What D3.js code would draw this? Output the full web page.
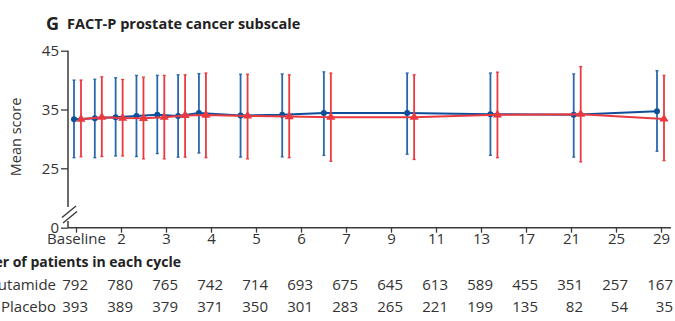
<!DOCTYPE html>
<html>
<head>
<meta charset="utf-8">
<script src="https://cdn.jsdelivr.net/npm/d3@7"></script>
<style>
  body { margin: 0; background: #fff; }
  svg { font-family: "Open Sans", sans-serif; }
</style>
</head>
<body>
<svg width="675" height="321"></svg>
<script>
// cycles waar gemeten is
const cycles = [1, 2, 3, 4, 5, 6, 7, 9, 11, 13, 17, 21, 25, 29];
const tickLabels = ['Baseline', '2', '3', '4', '5', '6', '7', '9', '11', '13', '17', '21', '25', '29'];

// apalutamide (blauw)
const apaMean = [33.35, 33.5, 33.7, 33.9, 34.1, 33.9, 34.4, 34.0, 34.1, 34.4, 34.4, 34.2, 34.1, 34.7];
const apaUpper = [40.0, 40.15, 40.4, 40.8, 40.8, 40.9, 41.1, 41.0, 41.05, 41.4, 41.2, 41.2, 41.05, 41.6];
const apaLower = [26.8, 26.8, 27.1, 27.0, 27.5, 26.9, 27.6, 26.9, 26.95, 27.2, 27.4, 27.2, 26.9, 27.9];

// placebo (rood)
const plaMean = [33.35, 33.7, 33.55, 33.5, 33.7, 34.0, 34.05, 33.9, 33.8, 33.7, 33.7, 34.1, 34.2, 33.4];
const plaUpper = [40.0, 40.55, 40.1, 40.5, 40.8, 40.9, 41.2, 41.0, 40.9, 41.2, 40.9, 41.35, 42.3, 40.8];
const plaLower = [26.95, 27.0, 27.1, 26.6, 26.6, 26.9, 26.8, 26.6, 26.8, 26.2, 26.5, 26.8, 26.1, 26.3];

// aantal patienten per cycle
const apaN = [792, 780, 765, 742, 714, 693, 675, 645, 613, 589, 455, 351, 257, 167];
const plaN = [393, 389, 379, 371, 350, 301, 283, 265, 221, 199, 135, 82, 54, 35];

const yTicks = [0, 25, 35, 45];

const svg = d3.select('svg');
const blue = '#0f4f9a';
const blueBar = '#2a67ad';
const red = '#ea3a40';
const axisColor = '#3a3a3a';
const textColor = '#333';

// x voor de labels (gelijk verdeeld) en x voor de data (lineair in cycle)
const xTick = d3.scalePoint().domain(tickLabels).range([76, 661]);
const xData = d3.scaleLinear().domain([1, 29]).range([74, 657]);
const dodge = 7;

// y-as met breuk tussen 0 en 25
const yscale = d3.scaleLinear().domain([0, 20, 45]).range([227.7, 197.7, 50.7]);

const makeRows = (mean, lo, hi) => cycles.map((c, i) => ({cycle: c, mean: mean[i], lo: lo[i], hi: hi[i]}));
const apa = makeRows(apaMean, apaLower, apaUpper);
const pla = makeRows(plaMean, plaLower, plaUpper);

// titel
svg.append('text').attr('x', 46).attr('y', 29.5)
  .attr('font-size', 18).attr('font-weight', 700).attr('fill', '#222').text('G');
svg.append('text').attr('x', 67).attr('y', 29)
  .attr('font-size', 14.5).attr('font-weight', 700).attr('fill', '#222').text('FACT-P prostate cancer subscale');

// y-as
const yAxis = svg.append('g')
  .attr('transform', 'translate(68,0)')
  .call(d3.axisLeft(yscale).tickValues(yTicks).tickSize(7).tickPadding(2).tickFormat(d3.format('d')));
yAxis.select('.domain').remove();
yAxis.selectAll('line').attr('stroke', axisColor).attr('stroke-width', 1.3);
yAxis.selectAll('text').attr('font-size', 15).attr('fill', textColor).attr('font-family', '"Open Sans", sans-serif');

svg.append('line').attr('x1', 68).attr('x2', 68).attr('y1', yscale(45)).attr('y2', 207)
  .attr('stroke', axisColor).attr('stroke-width', 1.5);
svg.append('line').attr('x1', 68).attr('x2', 68).attr('y1', 221).attr('y2', yscale(0))
  .attr('stroke', axisColor).attr('stroke-width', 1.5);
// breuk-streepjes
[[62, 217.5, 76, 206], [63, 223, 77, 211.5]].forEach(s => {
  svg.append('line').attr('x1', s[0]).attr('y1', s[1]).attr('x2', s[2]).attr('y2', s[3])
    .attr('stroke', axisColor).attr('stroke-width', 1.4);
});

svg.append('text')
  .attr('transform', `translate(21, ${137}) rotate(-90)`)
  .attr('text-anchor', 'middle').attr('font-size', 14.5).attr('fill', textColor)
  .text('Mean score');

// x-as
const xAxis = svg.append('g')
  .attr('transform', `translate(0, ${yscale(0)})`)
  .call(d3.axisBottom(xTick).tickSize(5).tickPadding(1));
xAxis.select('.domain').attr('d', 'M68,0H671').attr('stroke', axisColor).attr('stroke-width', 1.5);
xAxis.selectAll('line').attr('stroke', axisColor).attr('stroke-width', 1.3);
xAxis.selectAll('text').attr('font-size', 15).attr('fill', textColor).attr('font-family', '"Open Sans", sans-serif');

// series tekenen
const drawSeries = (data, color, barColor, off) => {
  const g = svg.append('g');
  const xp = d => xData(d.cycle) + off;
  g.selectAll('.bar').data(data).enter().append('line')
    .attr('x1', xp).attr('x2', xp)
    .attr('y1', d => yscale(d.lo)).attr('y2', d => yscale(d.hi))
    .attr('stroke', barColor).attr('stroke-width', 1.8);
  ['lo', 'hi'].forEach(k => {
    g.selectAll('.cap' + k).data(data).enter().append('line')
      .attr('x1', d => xp(d) - 1.5).attr('x2', d => xp(d) + 1.5)
      .attr('y1', d => yscale(d[k])).attr('y2', d => yscale(d[k]))
      .attr('stroke', barColor).attr('stroke-width', 1.3);
  });
  g.append('path').datum(data)
    .attr('d', d3.line().x(xp).y(d => yscale(d.mean)))
    .attr('fill', 'none').attr('stroke', color).attr('stroke-width', 2);
  return {g, xp};
};

const b = drawSeries(apa, blue, blueBar, 0);
const r = drawSeries(pla, red, red, dodge);

b.g.selectAll('circle').data(apa).enter().append('circle')
  .attr('cx', b.xp).attr('cy', d => yscale(d.mean)).attr('r', 3)
  .attr('fill', blue);
r.g.selectAll('.tri').data(pla).enter().append('path')
  .attr('transform', d => `translate(${r.xp(d)}, ${yscale(d.mean)})`)
  .attr('d', d3.symbol(d3.symbolTriangle, 36))
  .attr('fill', red);

// tabel met aantallen
svg.append('text').attr('x', 181).attr('y', 267).attr('text-anchor', 'end')
  .attr('font-size', 14).attr('font-weight', 700).attr('fill', '#222')
  .text('Number of patients in each cycle');

const rows = [
  {label: 'Apalutamide', values: apaN, y: 290},
  {label: 'Placebo', values: plaN, y: 312}
];
rows.forEach(row => {
  svg.append('text').attr('x', 56).attr('y', row.y).attr('text-anchor', 'end')
    .attr('font-size', 15).attr('fill', textColor).text(row.label);
  svg.append('g').selectAll('text').data(row.values).enter().append('text')
    .attr('x', (d, i) => xTick(tickLabels[i]) + 12)
    .attr('y', row.y).attr('text-anchor', 'end')
    .attr('font-size', 15).attr('fill', textColor)
    .text(d => d);
});
</script>
</body>
</html>
